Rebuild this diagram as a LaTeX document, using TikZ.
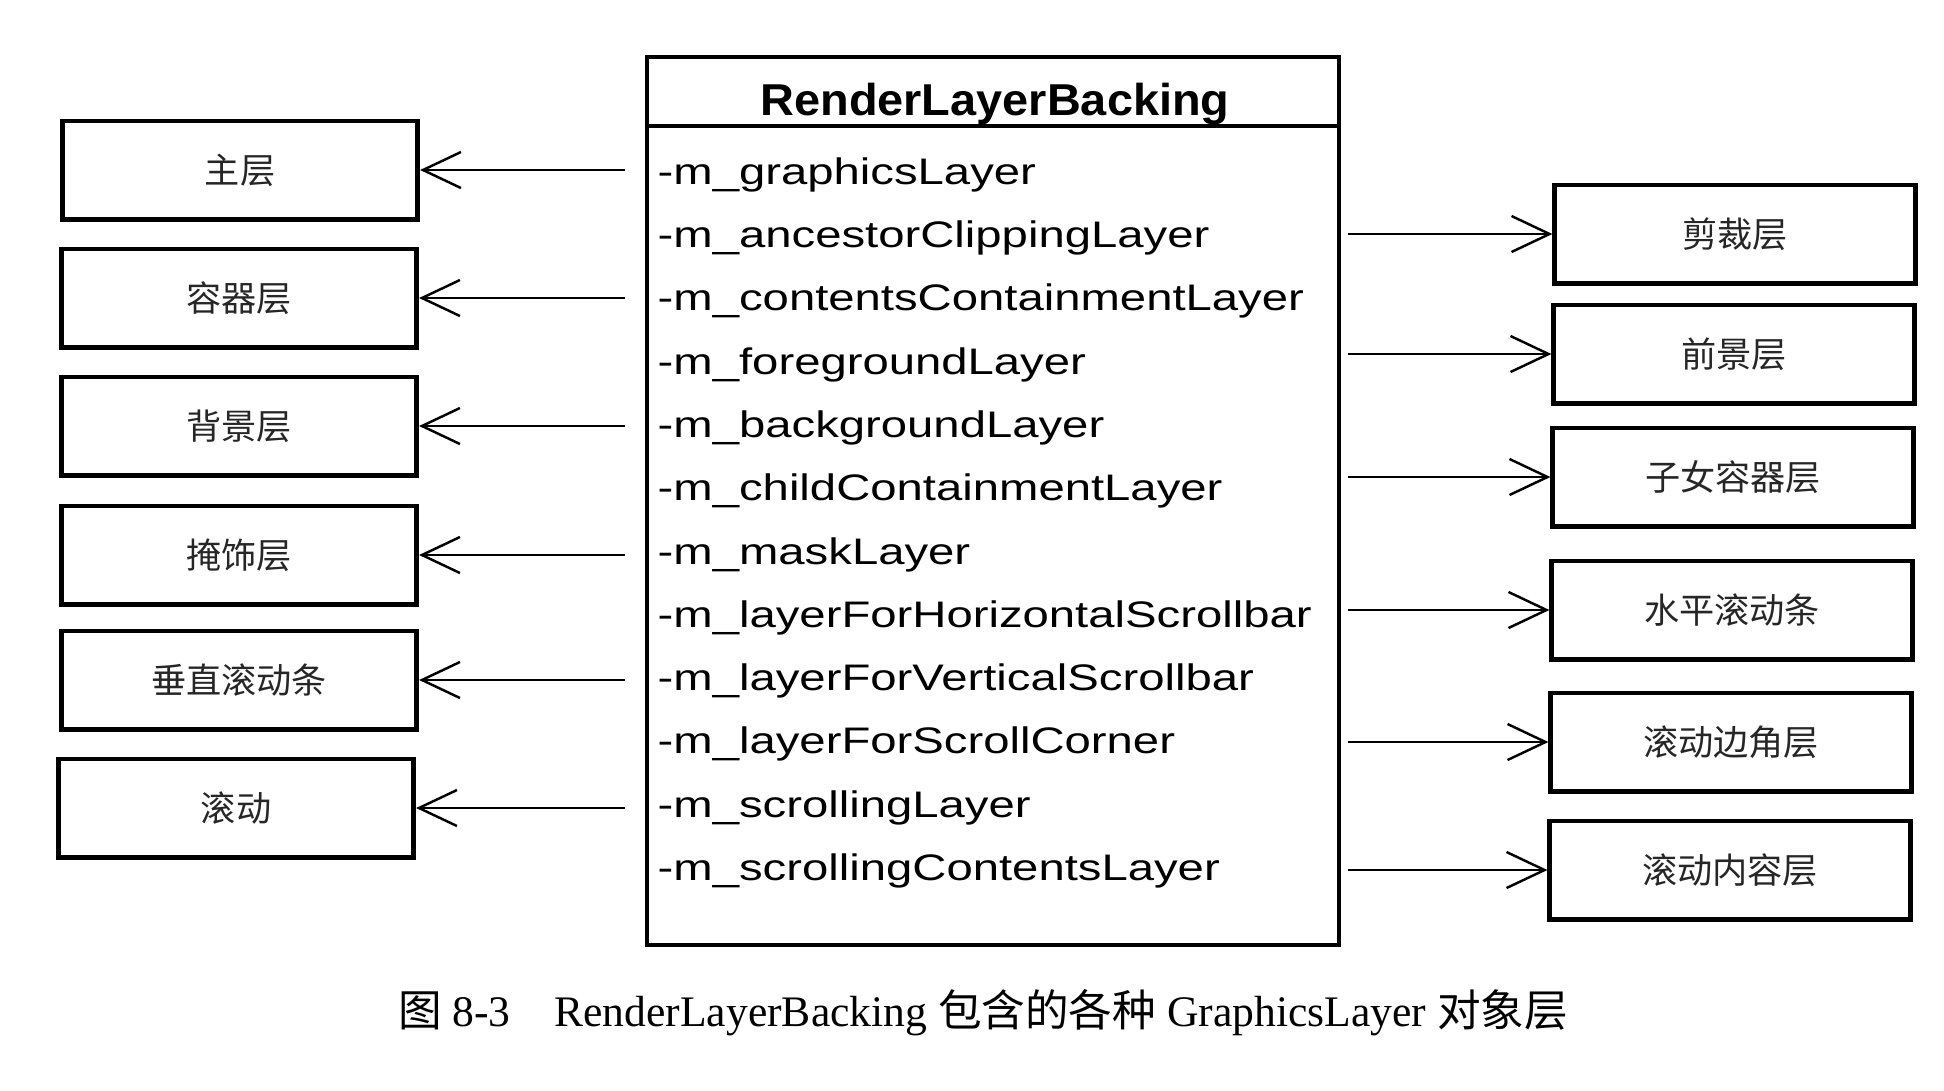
\documentclass[tikz,border=0pt]{standalone}
\usepackage{fontspec}
\setmainfont{Liberation Serif}
\newfontfamily\membfont[FakeStretch=1.28]{Liberation Sans}
\newfontfamily\titlefont[FakeStretch=1.05]{Liberation Sans}
\newfontfamily\cjk{Noto Sans CJK SC}
\usepackage{tikz}
\usetikzlibrary{positioning, arrows.meta}
\tikzset{
  classbox/.style = {draw, line width=1.2pt, minimum width=6.92cm, minimum height=8.88cm, inner sep=0pt},
  member/.style   = {anchor=west, inner sep=0pt, text height=7.5pt, text depth=0pt, font=\fontsize{10.5}{12}\membfont},
  layerbox/.style = {draw, line width=1.4pt, minimum width=3.55cm, minimum height=0.98cm, text=black!85, font=\fontsize{10}{12}\cjk},
  arr/.style      = {->, >={Straight Barb[length=3.8mm, width=3.6mm]}, line width=0.7pt}
}

\begin{document}
\begin{tikzpicture}[x=0.01cm, y=-0.01cm]
        \useasboundingbox (0,0) rectangle (1944,1090);
        % RenderLayerBacking class box
        \node[classbox] (rlb) at (993,501) {};
        \node[anchor=base, font=\fontsize{12.7}{14}\titlefont\bfseries] (title) at (995,115) {RenderLayerBacking};
        \coordinate (sep) at (993,126);
        \draw[line width=1pt] (sep -| rlb.west) -- (sep -| rlb.east);
        \node[member] (m0)  at (657,171)   {-m\_graphicsLayer};
        \node[member] (m1)  at (657,234.3) {-m\_ancestorClippingLayer};
        \node[member] (m2)  at (657,297.6) {-m\_contentsContainmentLayer};
        \node[member] (m3)  at (657,360.9) {-m\_foregroundLayer};
        \node[member] (m4)  at (657,424.2) {-m\_backgroundLayer};
        \node[member] (m5)  at (657,487.5) {-m\_childContainmentLayer};
        \node[member] (m6)  at (657,550.8) {-m\_maskLayer};
        \node[member] (m7)  at (657,614.1) {-m\_layerForHorizontalScrollbar};
        \node[member] (m8)  at (657,677.4) {-m\_layerForVerticalScrollbar};
        \node[member] (m9)  at (657,740.7) {-m\_layerForScrollCorner};
        \node[member] (m10) at (657,804)   {-m\_scrollingLayer};
        \node[member] (m11) at (657,867.3) {-m\_scrollingContentsLayer};
        % left layers
        \node[layerbox] (l0) at (240,170)   {主层};
        \node[layerbox] (l1) at (239,298)   {容器层};
        \node[layerbox] (l2) at (239,426)   {背景层};
        \node[layerbox] (l3) at (239,555)   {掩饰层};
        \node[layerbox] (l4) at (239,680)   {垂直滚动条};
        \node[layerbox] (l5) at (236,808)   {滚动};
        % right layers
        \node[layerbox, minimum width=3.6cm] (r0) at (1735,234) {剪裁层};
        \node[layerbox, minimum width=3.6cm] (r1) at (1734,354) {前景层};
        \node[layerbox, minimum width=3.6cm] (r2) at (1733,477) {子女容器层};
        \node[layerbox, minimum width=3.6cm] (r3) at (1732,610) {水平滚动条};
        \node[layerbox, minimum width=3.6cm] (r4) at (1731,742) {滚动边角层};
        \node[layerbox, minimum width=3.6cm] (r5) at (1730,870) {滚动内容层};
        \draw[arr] ([xshift=-2mm]rlb.west |- l0) -- (l0);
        \draw[arr] ([xshift=-2mm]rlb.west |- l1) -- (l1);
        \draw[arr] ([xshift=-2mm]rlb.west |- l2) -- (l2);
        \draw[arr] ([xshift=-2mm]rlb.west |- l3) -- (l3);
        \draw[arr] ([xshift=-2mm]rlb.west |- l4) -- (l4);
        \draw[arr] ([xshift=-2mm]rlb.west |- l5) -- (l5);
        \draw[arr] ([xshift=0.7mm]rlb.east |- r0) -- (r0);
        \draw[arr] ([xshift=0.7mm]rlb.east |- r1) -- (r1);
        \draw[arr] ([xshift=0.7mm]rlb.east |- r2) -- (r2);
        \draw[arr] ([xshift=0.7mm]rlb.east |- r3) -- (r3);
        \draw[arr] ([xshift=0.7mm]rlb.east |- r4) -- (r4);
        \draw[arr] ([xshift=0.7mm]rlb.east |- r5) -- (r5);
        % caption
        \node[font=\fontsize{12.4}{14}\selectfont] (cap) at (983,1013) {{\cjk 图} 8-3\quad RenderLayerBacking {\cjk 包含的各种} GraphicsLayer {\cjk 对象层}};
      \end{tikzpicture}
\end{document}
